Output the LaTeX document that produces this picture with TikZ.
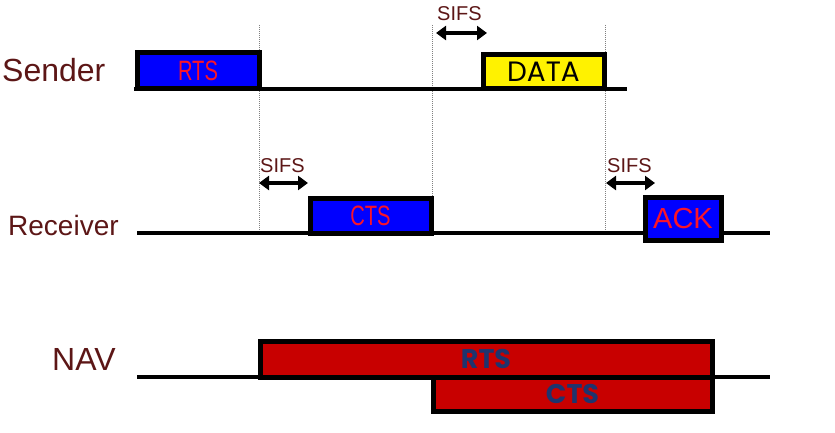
\documentclass[tikz,border=0pt]{standalone}
\usepackage{fontspec}
\usepackage{graphicx}
\setmainfont{Liberation Sans}
\newfontfamily\geo{Poppins}
\usetikzlibrary{arrows.meta}
\definecolor{lblbrown}{RGB}{92,22,22}
\definecolor{navred}{RGB}{200,0,0}
\definecolor{navtext}{RGB}{30,52,110}
\definecolor{boxtext}{RGB}{250,20,40}
\tikzset{
  rowlabel/.style={anchor=base west, inner sep=0pt, text=lblbrown},
  sifslabel/.style={anchor=base west, inner sep=0pt, text=lblbrown, font=\fontsize{20}{22}\selectfont},
  baseline/.style={line width=4pt},
  frame/.style={draw=black, line width=5pt, inner sep=0pt, outer sep=0pt, anchor=south west},
  bluebox/.style={frame, fill=blue, text=boxtext},
  yellowbox/.style={frame, fill=yellow, text=black},
  navbox/.style={frame, fill=navred, text=navtext, font=\geo\bfseries\fontsize{27}{29}\selectfont},
  guide/.style={gray, line width=0.8pt, dash pattern=on 1pt off 1pt},
  sifsarrow/.style={{Triangle[length=10pt,width=14pt]}-{Triangle[length=10pt,width=14pt]}, line width=4pt},
}
\begin{document}
\begin{tikzpicture}[x=1pt,y=-1pt]
\useasboundingbox (0,0) rectangle (835,433);
% guides
\coordinate (g1t) at (259,25); \coordinate (g1b) at (259,232);
\coordinate (g2t) at (432,25); \coordinate (g2b) at (432,232);
\coordinate (g3t) at (605,25); \coordinate (g3b) at (605,232);
\draw[guide] (g1t) -- (g1b);
\draw[guide] (g2t) -- (g2b);
\draw[guide] (g3t) -- (g3b);
% baselines
\coordinate (s0) at (134,89); \coordinate (s1) at (627,89);
\coordinate (r0) at (137,233); \coordinate (r1) at (770,233);
\coordinate (n0) at (137,377); \coordinate (n1) at (770,377);
\draw[baseline] (s0) -- (s1);
\draw[baseline] (r0) -- (r1);
\draw[baseline] (n0) -- (n1);
% row labels
\node[rowlabel, font=\fontsize{32}{34}\selectfont] (sender) at (2,82) {Sender};
\node[rowlabel, font=\fontsize{28}{30}\selectfont] (receiver) at (8,235) {Receiver};
\node[rowlabel, font=\fontsize{32}{34}\selectfont] (nav) at (52,370) {NAV};
% sender boxes
\node[bluebox, minimum width=122pt, minimum height=36pt] (rts) at (137,89)
  {\scalebox{0.72}[1]{\fontsize{28}{30}\selectfont RTS}};
\node[yellowbox, minimum width=121pt, minimum height=34pt, font=\geo\fontsize{28}{30}\selectfont] (data) at (483,89) {DATA};
% receiver boxes
\node[bluebox, minimum width=121pt, minimum height=35pt] (cts) at (310,233)
  {\scalebox{0.72}[1]{\fontsize{28}{30}\selectfont CTS}};
\node[bluebox, minimum width=76pt, minimum height=43pt, font=\fontsize{29}{31}\selectfont] (ack) at (645,240) {ACK};
% NAV boxes
\node[navbox, minimum width=452pt, minimum height=36pt] (navrts) at (260,377) {RTS};
\node[navbox, minimum width=279pt, minimum height=34pt] (navcts) at (433,411) {CTS};
% SIFS
\node[sifslabel] (sifs1) at (437,21) {SIFS};
\node[sifslabel] (sifs2) at (260,172) {SIFS};
\node[sifslabel] (sifs3) at (607,172) {SIFS};
\coordinate (a1l) at (436,33); \coordinate (a1r) at (487,33);
\coordinate (a2l) at (259,183); \coordinate (a2r) at (308,183);
\coordinate (a3l) at (606,183); \coordinate (a3r) at (655,183);
\draw[sifsarrow] (a1l) -- (a1r);
\draw[sifsarrow] (a2l) -- (a2r);
\draw[sifsarrow] (a3l) -- (a3r);
\end{tikzpicture}
\end{document}
